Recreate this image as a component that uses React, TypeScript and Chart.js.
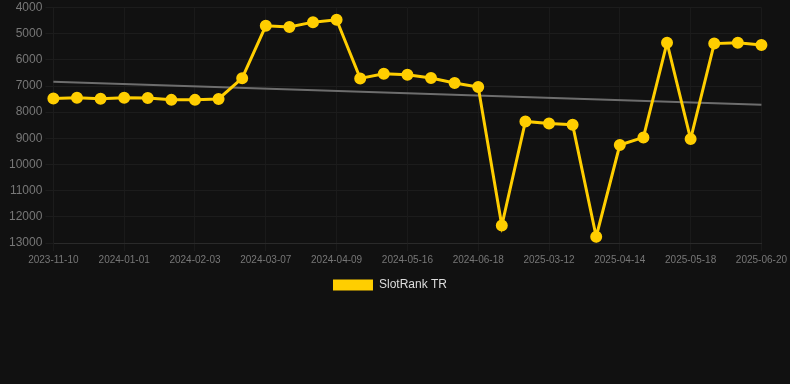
import React, { useEffect, useRef } from "react";
import { Chart, registerables } from "chart.js";

Chart.register(...registerables);

const categories: string[] = [
  "2023-11-10", "2023-11-27", "2023-12-14", "2024-01-01", "2024-01-12", "2024-01-23",
  "2024-02-03", "2024-02-14", "2024-02-25", "2024-03-07", "2024-03-18", "2024-03-29",
  "2024-04-09", "2024-04-21", "2024-05-04", "2024-05-16", "2024-05-27", "2024-06-07",
  "2024-06-18", "2024-10-15", "2025-01-20", "2025-03-12", "2025-03-23", "2025-04-03",
  "2025-04-14", "2025-04-25", "2025-05-07", "2025-05-18", "2025-05-29", "2025-06-09",
  "2025-06-20",
];

const rankValues: number[] = [
  7480, 7450, 7490, 7450, 7455, 7530, 7530, 7495, 6700, 4700, 4745,
  4560, 4470, 6710, 6535, 6570, 6695, 6885, 7040, 12330, 8355, 8430,
  8480, 12760, 9255, 8965, 5345, 9025, 5380, 5345, 5430,
];

const trendStart = 6840;
const trendEnd = 7720;

const yTicks = { min: 4000, max: 13000, step: 1000 };

const YELLOW = "rgb(255,206,0)";

const legendShift = {
  id: "legendShift",
  afterUpdate(chart: any) {
    if (chart.legend) {
      chart.legend.left -= 7;
      chart.legend.right -= 7;
    }
  },
};

export default function App() {
  const ref = useRef<HTMLCanvasElement | null>(null);

  useEffect(() => {
    document.body.style.background = "#111111";
    document.body.style.margin = "0";
    const trendData: (number | null)[] = categories.map((_, i) =>
      i === 0 ? trendStart : i === categories.length - 1 ? trendEnd : null
    );
    const chart = new Chart(ref.current!, {
      type: "line",
      data: {
        labels: categories,
        datasets: [
          {
            label: "SlotRank TR",
            data: rankValues,
            borderColor: YELLOW,
            backgroundColor: YELLOW,
            borderWidth: 3,
            pointRadius: 4.5,
            pointHoverRadius: 4.5,
            pointBackgroundColor: YELLOW,
            pointBorderColor: YELLOW,
            tension: 0,
            order: 1,
          },
          {
            label: "Trend",
            data: trendData,
            borderColor: "rgba(120,120,120,0.9)",
            backgroundColor: "rgba(120,120,120,0.9)",
            borderWidth: 2,
            pointRadius: 0,
            spanGaps: true,
            order: 2,
          },
        ],
      },
      plugins: [legendShift],
      options: {
        animation: false,
        responsive: false,
        maintainAspectRatio: false,
        layout: { padding: { left: 6, right: 2 } },
        plugins: {
          legend: {
            position: "bottom",
            labels: {
              color: "#dddddd",
              font: { size: 12 },
              boxWidth: 40,
              boxHeight: 11,
              generateLabels: (c) =>
                Chart.defaults.plugins.legend.labels
                  .generateLabels(c)
                  .filter((l) => l.text === "SlotRank TR")
                  .map((l) => ({ ...l, lineWidth: 0 })),
            },
          },
          tooltip: { enabled: false },
        },
        scales: {
          x: {
            grid: { color: "#1a1a1a", tickColor: "#1a1a1a" },
            border: { color: "#2a2a2a" },
            ticks: {
              color: "#777777",
              font: { size: 10 },
              maxRotation: 0,
              autoSkip: true,
              maxTicksLimit: 11,
            },
          },
          y: {
            reverse: true,
            min: yTicks.min,
            max: yTicks.max,
            grid: { color: "#1c1c1c", tickColor: "#1c1c1c" },
            border: { color: "#1c1c1c" },
            ticks: {
              stepSize: yTicks.step,
              color: "#777777",
              font: { size: 12, lineHeight: 0.5 },
              callback: (v) => String(v),
            },
          },
        },
      },
    });
    return () => chart.destroy();
  }, []);

  return (
    <div style={{ width: 790, height: 384, background: "#111111" }}>
      <canvas ref={ref} width={790} height={301} style={{ display: "block" }} />
    </div>
  );
}
